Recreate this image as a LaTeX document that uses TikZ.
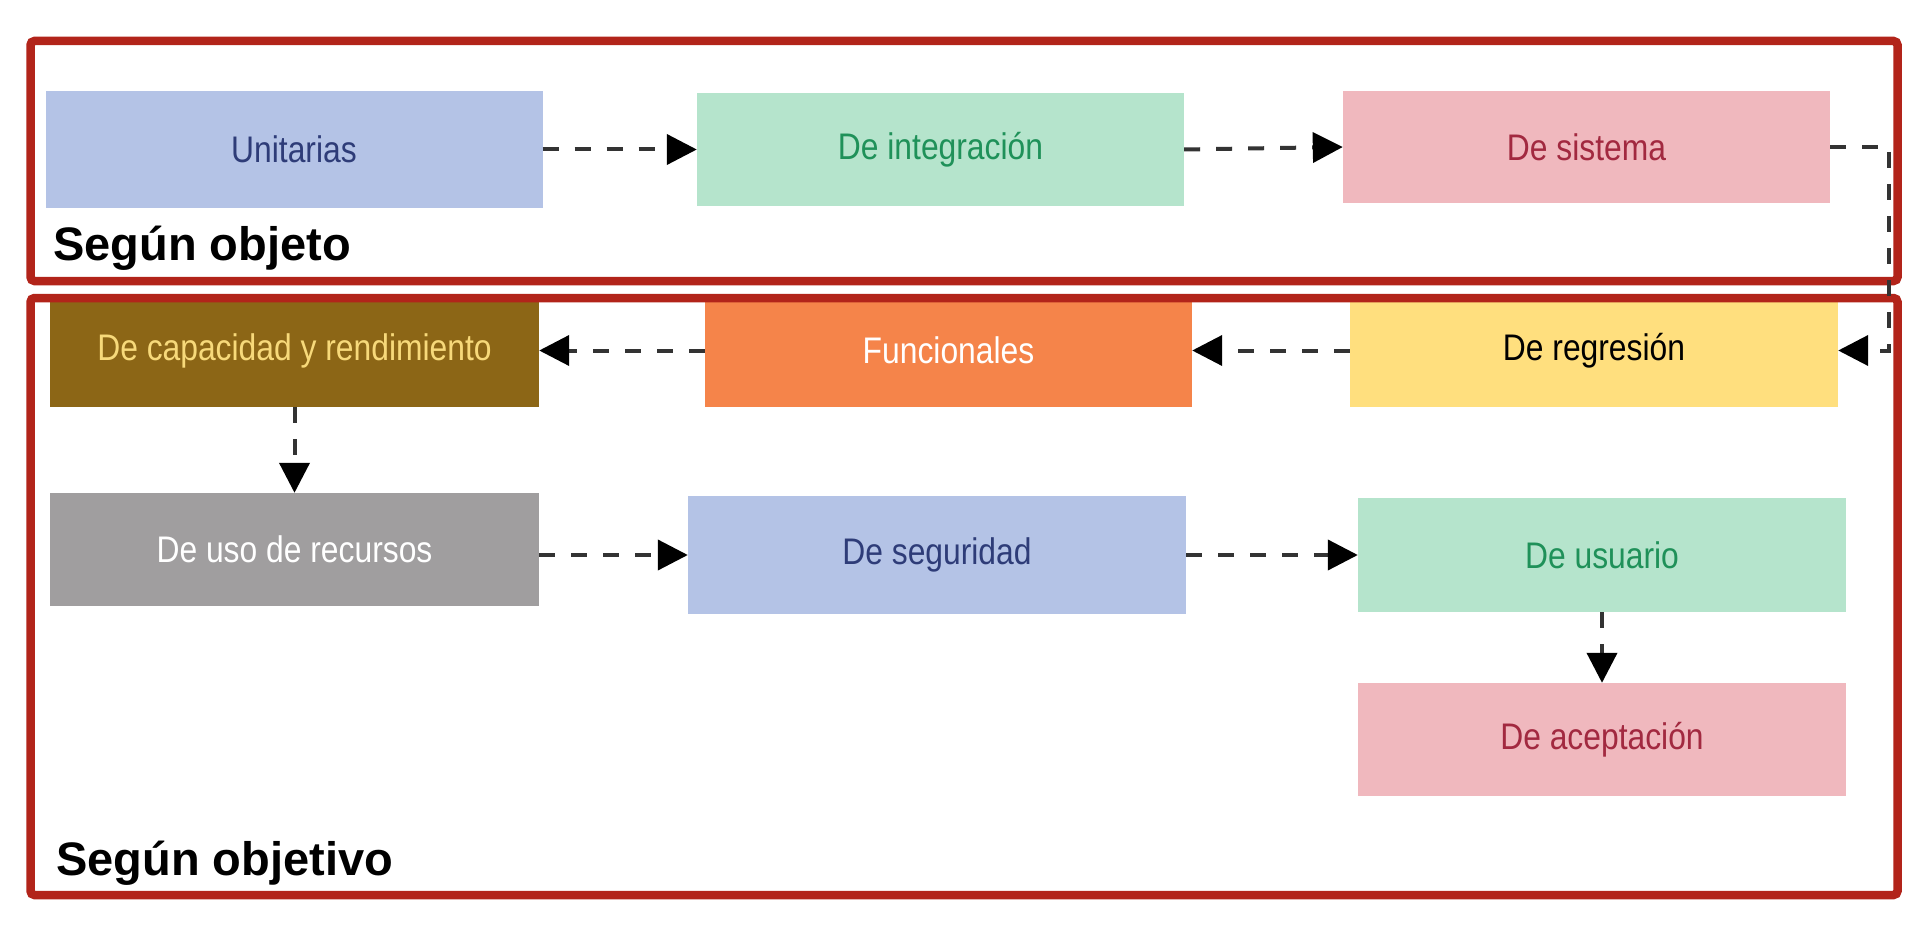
\documentclass[tikz,border=0pt]{standalone}
\usepackage{fontspec}
\setmainfont{Liberation Sans}
\newfontfamily\cajafont[FakeStretch=0.86]{Liberation Sans}
\usepackage{xcolor}
\definecolor{marco}{HTML}{B2241A}
\definecolor{flecha}{HTML}{333333}
\definecolor{azulcaja}{HTML}{B4C3E6}
\definecolor{azultexto}{HTML}{2E3C78}
\definecolor{verdecaja}{HTML}{B5E4CC}
\definecolor{verdetexto}{HTML}{1F9159}
\definecolor{rosacaja}{HTML}{F0B8BE}
\definecolor{rosatexto}{HTML}{A22940}
\definecolor{amarillocaja}{HTML}{FFDF7E}
\definecolor{naranjacaja}{HTML}{F5844A}
\definecolor{marroncaja}{HTML}{8C6616}
\definecolor{marrontexto}{HTML}{F7D97A}
\definecolor{griscaja}{HTML}{A09E9F}
\usetikzlibrary{arrows.meta}

\begin{document}
\begin{tikzpicture}[x=1pt, y=-1pt,
  caja/.style={minimum width=488pt, minimum height=113pt, inner sep=0pt,
               font=\cajafont\fontsize{37}{40}\selectfont},
  flujo/.style={-{Triangle[length=30pt, width=30pt, color=black]},
                line width=4pt, draw=flecha, dash pattern=on 16pt off 16pt},
  marcobox/.style={draw=marco, line width=8.5pt, rounded corners=4pt},
  titulo/.style={anchor=base west, inner sep=0pt,
                 font=\bfseries\fontsize{47}{50}\selectfont}]

  \useasboundingbox (0,0) rectangle (1930,928);

  % fila 1: segun objeto
  \node[caja, fill=azulcaja, text=azultexto, minimum width=497pt, minimum height=117pt]
        (unit) at (294,149.5) {Unitarias};
  \node[caja, fill=verdecaja, text=verdetexto, minimum width=487pt]
        (integ) at (940.5,149.5) {De integración};
  \node[caja, fill=rosacaja, text=rosatexto, minimum width=487pt, minimum height=112pt]
        (sis) at (1586.5,147) {De sistema};

  % fila 2
  \node[caja, fill=marroncaja, text=marrontexto, minimum width=489pt]
        (capac) at (294.5,350.5) {De capacidad y rendimiento};
  \node[caja, fill=naranjacaja, text=white, minimum width=487pt]
        (func) at (948.5,350.5) {Funcionales};
  \node[caja, fill=amarillocaja, text=black]
        (regr) at (1594,350.5) {De regresión};

  % fila 3 y 4
  \node[caja, fill=griscaja, text=white, minimum width=489pt]
        (uso) at (294.5,549.5) {De uso de recursos};
  \node[caja, fill=azulcaja, text=azultexto, minimum width=498pt, minimum height=118pt]
        (segur) at (937,555) {De seguridad};
  \node[caja, fill=verdecaja, text=verdetexto, minimum height=114pt]
        (usuar) at (1602,555) {De usuario};
  \node[caja, fill=rosacaja, text=rosatexto]
        (acept) at (1602,739.5) {De aceptación};

  % marcos
  \draw[marcobox] (30.5,41) rectangle (1897.5,281);
  \draw[marcobox] (30.5,298) rectangle (1897.5,895);

  \node[titulo] (objeto) at (53,260) {Según objeto};
  \node[titulo] (objetivo) at (56,875) {Según objetivo};

  % flechas
  \draw[flujo] (unit.east) -- (integ.west);
  \draw[flujo] (integ.east) -- (sis.west);
  \draw[flujo] (sis.east) -- ++(59,0) |- (regr.east);
  \draw[flujo] (regr.west) -- (func.east);
  \draw[flujo] (func.west) -- (capac.east);
  \draw[flujo] (capac.south) -- (uso.north);
  \draw[flujo] (uso.east |- segur.west) -- (segur.west);
  \draw[flujo] (segur.east) -- (usuar.west);
  \draw[flujo] (usuar.south) -- (acept.north);

\end{tikzpicture}
\end{document}
